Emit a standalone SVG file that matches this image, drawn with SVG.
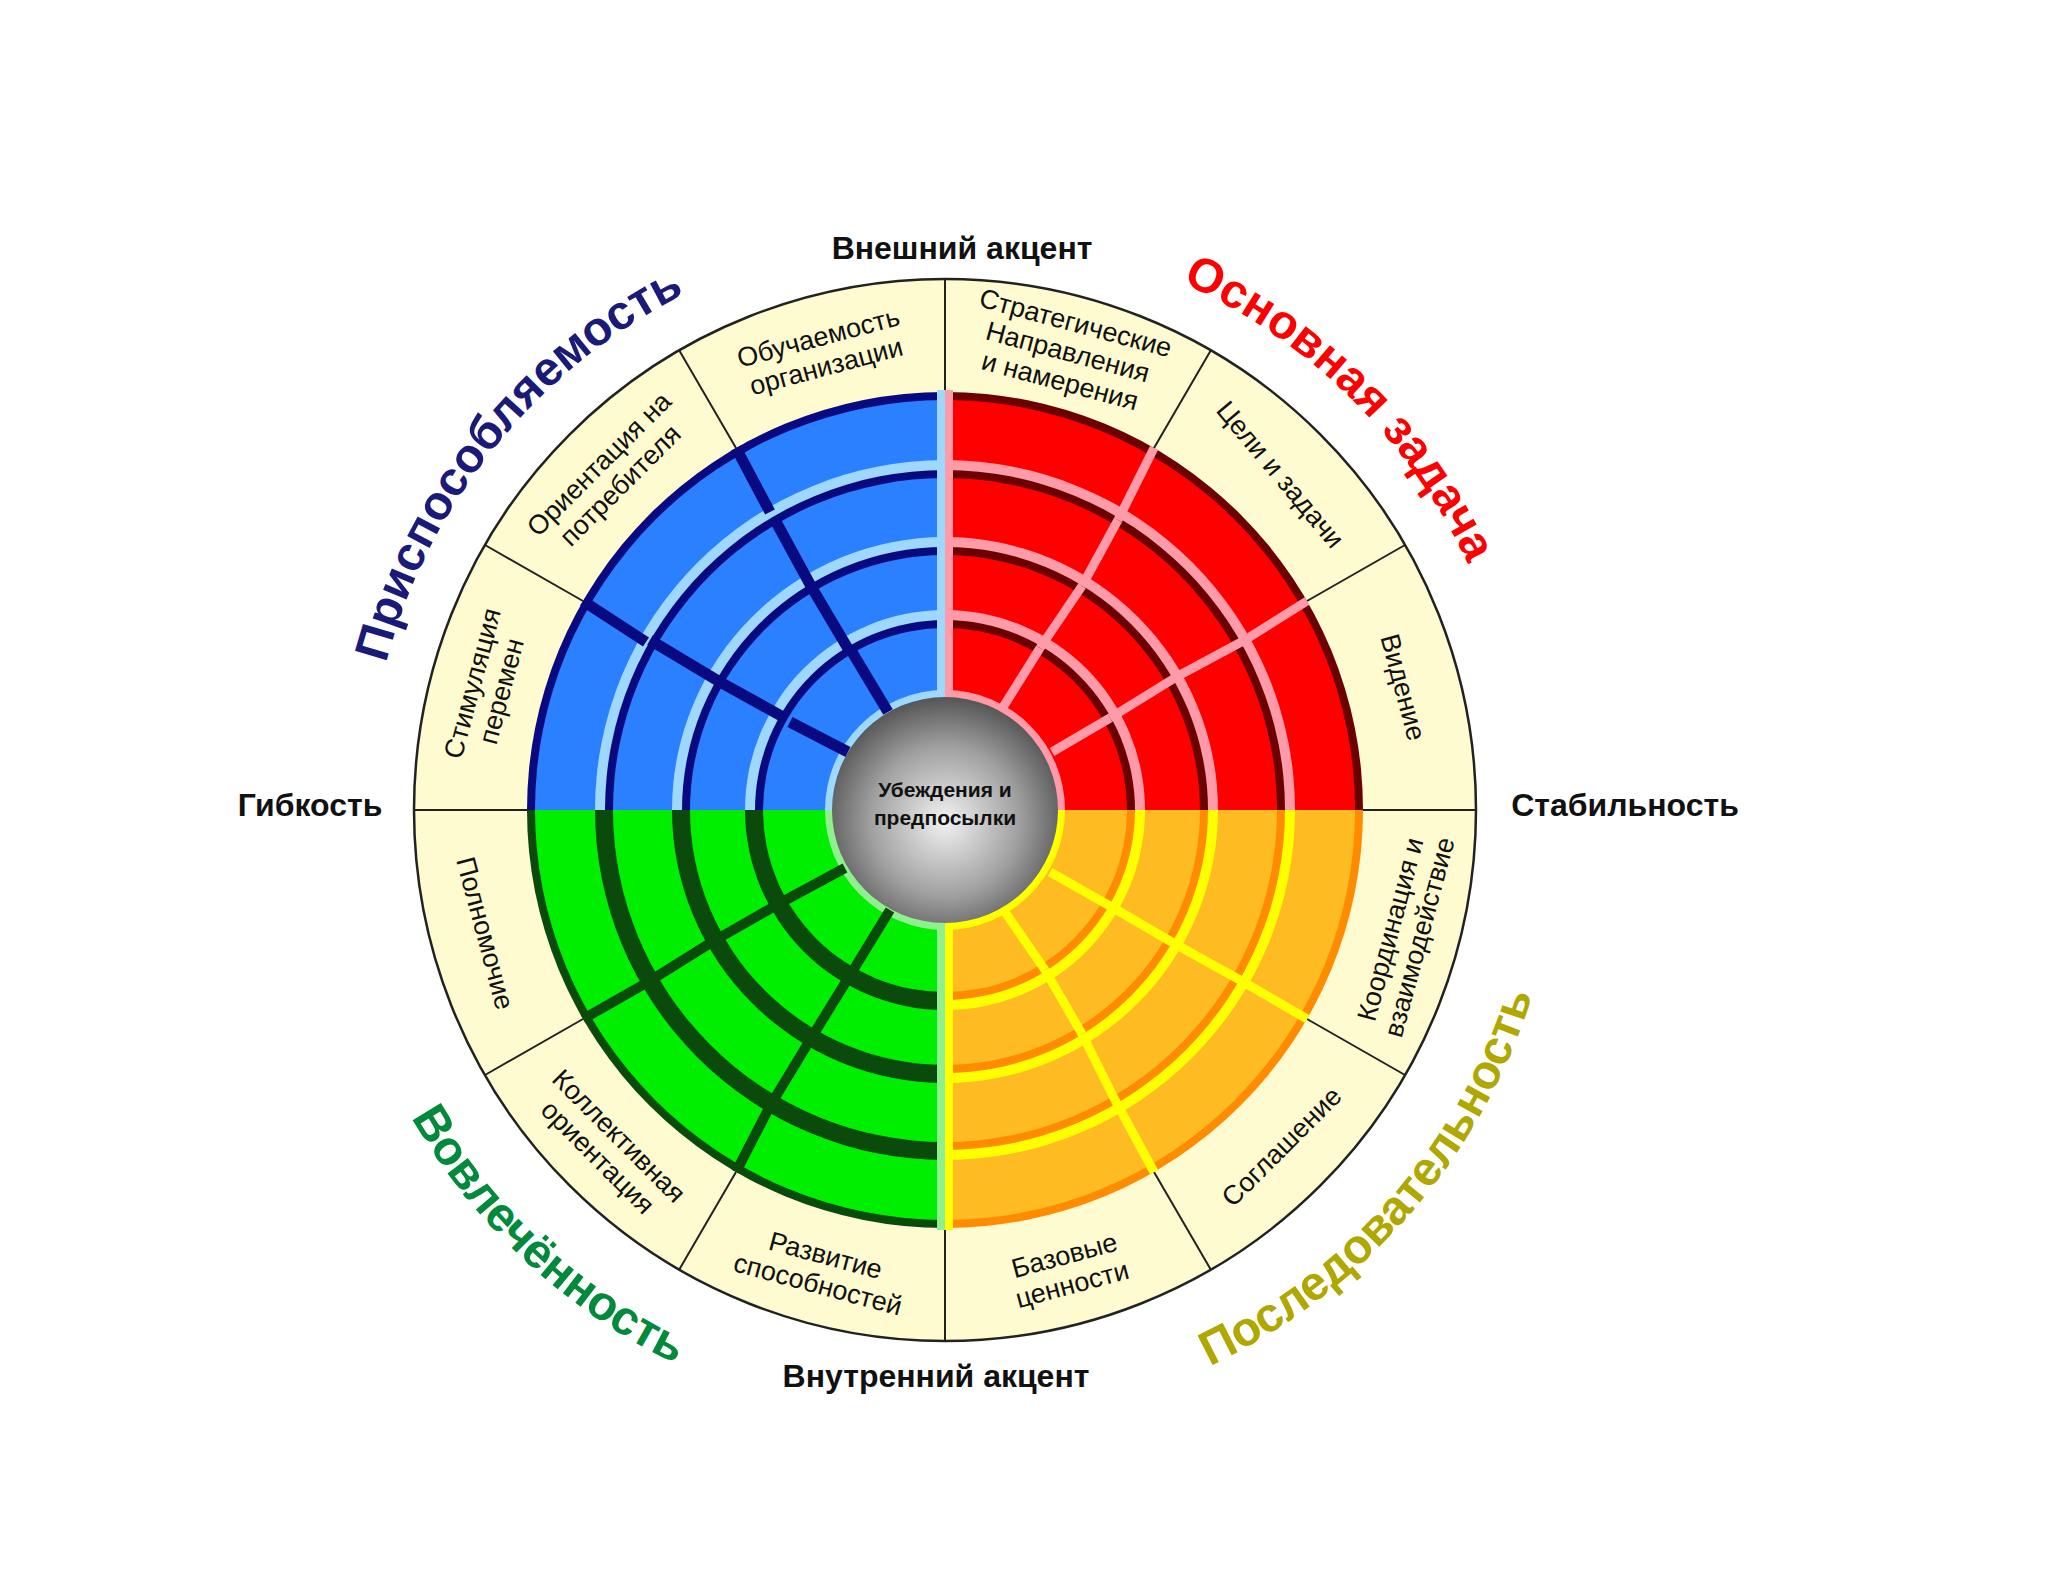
<svg xmlns="http://www.w3.org/2000/svg" width="2048" height="1582" viewBox="0 0 2048 1582">
<defs>
<style>
.lbl{font-family:"Liberation Sans",Arial,sans-serif;font-size:27px;fill:#111;text-anchor:middle}
.axis{font-family:"Liberation Sans",Arial,sans-serif;font-size:32px;font-weight:bold;fill:#111;text-anchor:middle}
.title{font-family:"Liberation Sans",Arial,sans-serif;font-size:48px;font-weight:bold}
.sep{stroke:#222;stroke-width:2}
</style>
<clipPath id="qTL"><rect x="520" y="380" width="425" height="430"/></clipPath>
<clipPath id="qTR"><rect x="945" y="380" width="430" height="430"/></clipPath>
<clipPath id="qBL"><rect x="520" y="810" width="425" height="430"/></clipPath>
<clipPath id="qBR"><rect x="945" y="810" width="430" height="430"/></clipPath>
<radialGradient id="ball" cx="0.5" cy="0.55" r="0.55">
<stop offset="0" stop-color="#f2f2f2"/><stop offset="0.6" stop-color="#a0a0a0"/><stop offset="1" stop-color="#555"/>
</radialGradient>
<path id="arcTL" d="M405.4,1017.2 A578,578 0 0 1 1035.4,239.1"/>
<path id="arcTR" d="M790.6,253 A578,578 0 0 1 1504.6,954.7"/>
<path id="arcBL" d="M340.9,670.5 A620,620 0 0 0 1126.3,1402.9"/>
<path id="arcBR" d="M826.7,1418.6 A620,620 0 0 0 1531.2,608.1"/>
</defs>
<rect width="2048" height="1582" fill="#fff"/>
<g id="outer-ring">
<circle cx="945" cy="810" r="531" fill="#fffbd0" stroke="#222" stroke-width="2.5"/>
<g class="sep">
<line x1="945" y1="279" x2="945" y2="392"/><line x1="945" y1="1228" x2="945" y2="1341"/>
<line x1="414" y1="810" x2="527" y2="810"/><line x1="1363" y1="810" x2="1476" y2="810"/>
<line x1="1211" y1="350" x2="1154" y2="448"/><line x1="1405" y1="545" x2="1307" y2="601"/>
<line x1="1405" y1="1075" x2="1307" y2="1019"/><line x1="1211" y1="1270" x2="1154" y2="1172"/>
<line x1="679" y1="1270" x2="736" y2="1172"/><line x1="485" y1="1075" x2="583" y2="1019"/>
<line x1="485" y1="545" x2="583" y2="601"/><line x1="679" y1="350" x2="736" y2="448"/>
</g>
</g>
<g id="q-blue" clip-path="url(#qTL)">
<circle cx="945" cy="810" r="418" fill="#0a0a80"/><circle cx="945" cy="810" r="410" fill="#2a80ff"/>
<circle cx="945" cy="810" r="350" fill="#9fd8ff"/><circle cx="945" cy="810" r="340" fill="#0a0a80"/><circle cx="945" cy="810" r="332" fill="#2a80ff"/>
<circle cx="945" cy="810" r="273" fill="#9fd8ff"/><circle cx="945" cy="810" r="263" fill="#0a0a80"/><circle cx="945" cy="810" r="255" fill="#2a80ff"/>
<circle cx="945" cy="810" r="200" fill="#9fd8ff"/><circle cx="945" cy="810" r="190" fill="#0a0a80"/><circle cx="945" cy="810" r="182" fill="#2a80ff"/>
<circle cx="945" cy="810" r="120" fill="#9fd8ff"/>
<g stroke="#0a0a80" stroke-width="11">
<line x1="736" y1="448" x2="770" y2="512"/><line x1="775" y1="520" x2="812" y2="588"/><line x1="812" y1="588" x2="850" y2="652"/><line x1="852" y1="652" x2="888" y2="712"/>
<line x1="583" y1="601" x2="646" y2="642"/><line x1="650" y1="640" x2="720" y2="682"/><line x1="720" y1="682" x2="785" y2="718"/><line x1="790" y1="722" x2="848" y2="752"/>
</g>
<rect x="937" y="390" width="8" height="420" fill="#9fd8ff"/>
</g>
<g id="q-red" clip-path="url(#qTR)">
<circle cx="945" cy="810" r="418" fill="#6a0000"/><circle cx="945" cy="810" r="410" fill="#ff0000"/>
<circle cx="945" cy="810" r="350" fill="#ff9aa8"/><circle cx="945" cy="810" r="340" fill="#6a0000"/><circle cx="945" cy="810" r="332" fill="#ff0000"/>
<circle cx="945" cy="810" r="273" fill="#ff9aa8"/><circle cx="945" cy="810" r="263" fill="#6a0000"/><circle cx="945" cy="810" r="255" fill="#ff0000"/>
<circle cx="945" cy="810" r="200" fill="#ff9aa8"/><circle cx="945" cy="810" r="190" fill="#6a0000"/><circle cx="945" cy="810" r="182" fill="#ff0000"/>
<circle cx="945" cy="810" r="120" fill="#ff9aa8"/>
<g stroke="#ff9aa8" stroke-width="9">
<line x1="1154" y1="448" x2="1118" y2="520"/><line x1="1118" y1="520" x2="1082" y2="586"/><line x1="1082" y1="586" x2="1040" y2="648"/><line x1="1040" y1="648" x2="1000" y2="712"/>
<line x1="1307" y1="601" x2="1245" y2="640"/><line x1="1245" y1="640" x2="1178" y2="676"/><line x1="1178" y1="676" x2="1110" y2="718"/><line x1="1110" y1="718" x2="1052" y2="752"/>
</g>
<rect x="945" y="390" width="8" height="420" fill="#ff9aa8"/>
</g>
<g id="q-green" clip-path="url(#qBL)">
<circle cx="945" cy="810" r="418" fill="#0a4a0a"/><circle cx="945" cy="810" r="410" fill="#00ee00"/>
<circle cx="945" cy="810" r="350" fill="#0a4a0a"/><circle cx="945" cy="810" r="340" fill="#0a4a0a"/><circle cx="945" cy="810" r="332" fill="#00ee00"/>
<circle cx="945" cy="810" r="273" fill="#0a4a0a"/><circle cx="945" cy="810" r="263" fill="#0a4a0a"/><circle cx="945" cy="810" r="255" fill="#00ee00"/>
<circle cx="945" cy="810" r="200" fill="#0a4a0a"/><circle cx="945" cy="810" r="190" fill="#0a4a0a"/><circle cx="945" cy="810" r="182" fill="#00ee00"/>
<circle cx="945" cy="810" r="120" fill="#90f090"/>
<g stroke="#0a4a0a" stroke-width="10">
<line x1="583" y1="1019" x2="648" y2="982"/><line x1="648" y1="982" x2="712" y2="942"/><line x1="712" y1="942" x2="782" y2="902"/><line x1="782" y1="902" x2="845" y2="868"/>
<line x1="736" y1="1172" x2="770" y2="1106"/><line x1="770" y1="1106" x2="810" y2="1040"/><line x1="810" y1="1040" x2="852" y2="972"/><line x1="852" y1="972" x2="890" y2="910"/>
</g>
<rect x="937" y="810" width="8" height="420" fill="#90f090"/>
</g>
<g id="q-orange" clip-path="url(#qBR)">
<circle cx="945" cy="810" r="418" fill="#ff8c00"/><circle cx="945" cy="810" r="410" fill="#ffbb22"/>
<circle cx="945" cy="810" r="350" fill="#ffff00"/><circle cx="945" cy="810" r="340" fill="#ff8c00"/><circle cx="945" cy="810" r="332" fill="#ffbb22"/>
<circle cx="945" cy="810" r="273" fill="#ffff00"/><circle cx="945" cy="810" r="263" fill="#ff8c00"/><circle cx="945" cy="810" r="255" fill="#ffbb22"/>
<circle cx="945" cy="810" r="200" fill="#ffff00"/><circle cx="945" cy="810" r="190" fill="#ff8c00"/><circle cx="945" cy="810" r="182" fill="#ffbb22"/>
<circle cx="945" cy="810" r="120" fill="#ffff00"/>
<g stroke="#ffff00" stroke-width="9">
<line x1="1154" y1="1172" x2="1115" y2="1100"/><line x1="1115" y1="1100" x2="1082" y2="1034"/><line x1="1082" y1="1034" x2="1045" y2="970"/><line x1="1045" y1="970" x2="1005" y2="912"/>
<line x1="1307" y1="1019" x2="1240" y2="980"/><line x1="1240" y1="980" x2="1175" y2="944"/><line x1="1175" y1="944" x2="1110" y2="906"/><line x1="1110" y1="906" x2="1050" y2="872"/>
</g>
<rect x="945" y="810" width="8" height="420" fill="#ffff00"/>
</g>
<g id="center">
<circle cx="945" cy="810" r="113" fill="url(#ball)"/>
<text x="945" y="797" style="font-family:'Liberation Sans',Arial,sans-serif;font-size:21px;font-weight:bold;fill:#111;text-anchor:middle">Убеждения и</text>
<text x="945" y="825" style="font-family:'Liberation Sans',Arial,sans-serif;font-size:21px;font-weight:bold;fill:#111;text-anchor:middle">предпосылки</text>
</g>
<g id="labels">
<text class="lbl" transform="translate(1404,687) rotate(75)" y="10">Видение</text>
<text class="lbl" transform="translate(1281,474) rotate(50)" y="10">Цели и задачи</text>
<text class="lbl" transform="translate(1068,351) rotate(15)"><tspan x="0" y="-20">Стратегические</tspan><tspan x="0" y="10">Направления</tspan><tspan x="0" y="40">и намерения</tspan></text>
<text class="lbl" transform="translate(822,351) rotate(-15)"><tspan x="0" y="-5">Обучаемость</tspan><tspan x="0" y="25">организации</tspan></text>
<text class="lbl" transform="translate(609,474) rotate(-45)"><tspan x="0" y="-5">Ориентация на</tspan><tspan x="0" y="25">потребителя</tspan></text>
<text class="lbl" transform="translate(486,687) rotate(-75)"><tspan x="0" y="-5">Стимуляция</tspan><tspan x="0" y="25">перемен</tspan></text>
<text class="lbl" transform="translate(486,933) rotate(75)" y="10">Полномочие</text>
<text class="lbl" transform="translate(609,1146) rotate(45)"><tspan x="0" y="-5">Коллективная</tspan><tspan x="0" y="25">ориентация</tspan></text>
<text class="lbl" transform="translate(822,1269) rotate(15)"><tspan x="0" y="-5">Развитие</tspan><tspan x="0" y="25">способностей</tspan></text>
<text class="lbl" transform="translate(1068,1269) rotate(-15)"><tspan x="0" y="-5">Базовые</tspan><tspan x="0" y="25">ценности</tspan></text>
<text class="lbl" transform="translate(1281,1146) rotate(-45)" y="10">Соглашение</text>
<text class="lbl" transform="translate(1404,933) rotate(-75)"><tspan x="0" y="-5">Координация и</tspan><tspan x="0" y="25">взаимодействие</tspan></text>
</g>
<g id="axes">
<text class="axis" x="962" y="259">Внешний акцент</text>
<text class="axis" x="936" y="1387">Внутренний акцент</text>
<text class="axis" x="310" y="816">Гибкость</text>
<text class="axis" x="1625" y="816">Стабильность</text>
</g>
<g id="titles">
<text class="title" fill="#1a1a78" text-anchor="middle"><textPath href="#arcTL" startOffset="50%">Приспособляемость</textPath></text>
<text class="title" fill="#ff0000" text-anchor="middle"><textPath href="#arcTR" startOffset="50%">Основная задача</textPath></text>
<text class="title" fill="#008a3a" text-anchor="middle" dy="-4"><textPath href="#arcBL" startOffset="50%">Вовлечённость</textPath></text>
<text class="title" fill="#b0a800" text-anchor="middle" dy="-4"><textPath href="#arcBR" startOffset="50%">Последовательность</textPath></text>
</g>
</svg>
